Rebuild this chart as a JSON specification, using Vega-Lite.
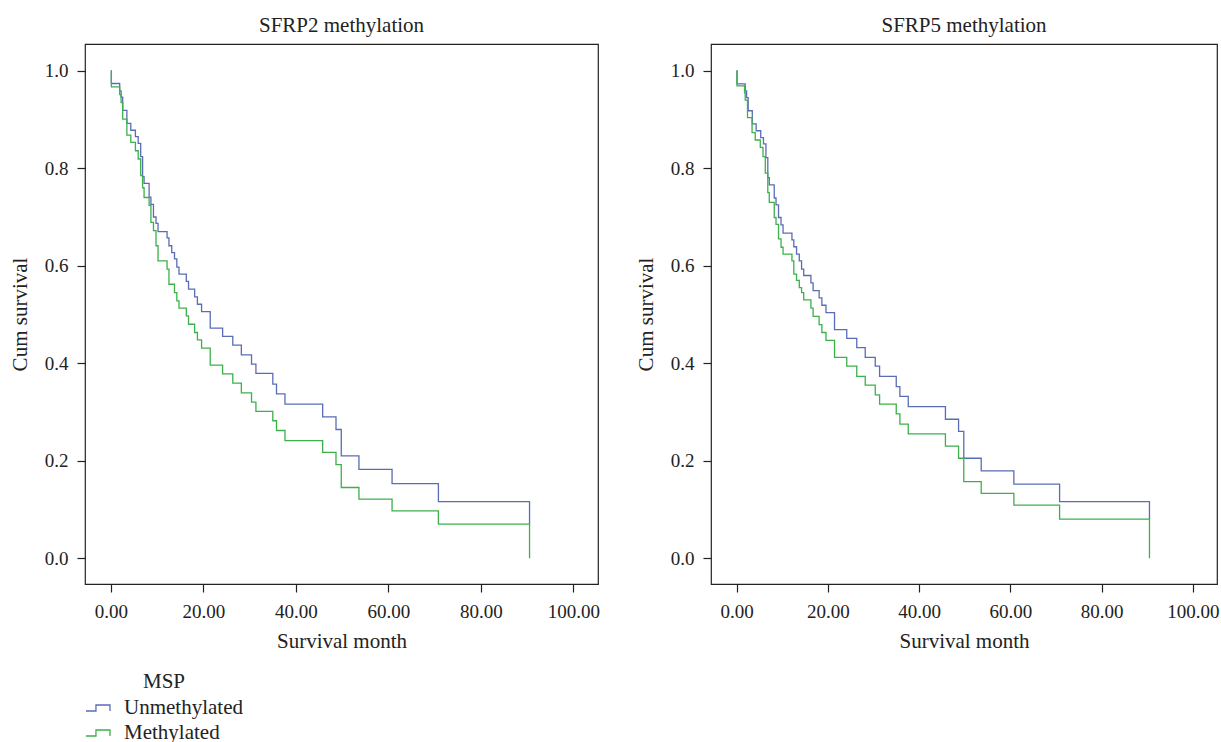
{
  "$schema": "https://vega.github.io/schema/vega-lite/v6.json",
  "padding": {"left": 8, "top": 14, "right": 0, "bottom": 0},
  "background": "white",
  "data": {"values": [
    {"g":"SFRP2","m":"Unmethylated","t":0,"s":1},{"g":"SFRP2","m":"Unmethylated","t":0.1,"s":0.974},{"g":"SFRP2","m":"Unmethylated","t":1.9,"s":0.959},{"g":"SFRP2","m":"Unmethylated","t":2.2,"s":0.946},{"g":"SFRP2","m":"Unmethylated","t":2.55,"s":0.919},{"g":"SFRP2","m":"Unmethylated","t":3.45,"s":0.892},{"g":"SFRP2","m":"Unmethylated","t":4.3,"s":0.878},{"g":"SFRP2","m":"Unmethylated","t":5.3,"s":0.865},{"g":"SFRP2","m":"Unmethylated","t":5.9,"s":0.851},{"g":"SFRP2","m":"Unmethylated","t":6.44,"s":0.824},{"g":"SFRP2","m":"Unmethylated","t":6.85,"s":0.783},{"g":"SFRP2","m":"Unmethylated","t":7.17,"s":0.769},{"g":"SFRP2","m":"Unmethylated","t":8.26,"s":0.741},{"g":"SFRP2","m":"Unmethylated","t":8.65,"s":0.726},{"g":"SFRP2","m":"Unmethylated","t":9.2,"s":0.7},{"g":"SFRP2","m":"Unmethylated","t":9.75,"s":0.687},{"g":"SFRP2","m":"Unmethylated","t":10.19,"s":0.67},{"g":"SFRP2","m":"Unmethylated","t":12.14,"s":0.657},{"g":"SFRP2","m":"Unmethylated","t":12.55,"s":0.641},{"g":"SFRP2","m":"Unmethylated","t":13.15,"s":0.627},{"g":"SFRP2","m":"Unmethylated","t":13.75,"s":0.614},{"g":"SFRP2","m":"Unmethylated","t":14.25,"s":0.597},{"g":"SFRP2","m":"Unmethylated","t":14.72,"s":0.583},{"g":"SFRP2","m":"Unmethylated","t":16.3,"s":0.568},{"g":"SFRP2","m":"Unmethylated","t":16.78,"s":0.552},{"g":"SFRP2","m":"Unmethylated","t":18.1,"s":0.536},{"g":"SFRP2","m":"Unmethylated","t":18.7,"s":0.521},{"g":"SFRP2","m":"Unmethylated","t":19.6,"s":0.506},{"g":"SFRP2","m":"Unmethylated","t":21.47,"s":0.472},{"g":"SFRP2","m":"Unmethylated","t":24.15,"s":0.455},{"g":"SFRP2","m":"Unmethylated","t":26.35,"s":0.437},{"g":"SFRP2","m":"Unmethylated","t":28.2,"s":0.417},{"g":"SFRP2","m":"Unmethylated","t":30.4,"s":0.398},{"g":"SFRP2","m":"Unmethylated","t":31.35,"s":0.379},{"g":"SFRP2","m":"Unmethylated","t":35.0,"s":0.357},{"g":"SFRP2","m":"Unmethylated","t":35.8,"s":0.337},{"g":"SFRP2","m":"Unmethylated","t":37.63,"s":0.316},{"g":"SFRP2","m":"Unmethylated","t":45.78,"s":0.29},{"g":"SFRP2","m":"Unmethylated","t":48.66,"s":0.264},{"g":"SFRP2","m":"Unmethylated","t":49.8,"s":0.21},{"g":"SFRP2","m":"Unmethylated","t":53.62,"s":0.182},{"g":"SFRP2","m":"Unmethylated","t":60.78,"s":0.153},{"g":"SFRP2","m":"Unmethylated","t":70.8,"s":0.116},{"g":"SFRP2","m":"Unmethylated","t":90.5,"s":0.07},
    {"g":"SFRP2","m":"Methylated","t":0,"s":1},{"g":"SFRP2","m":"Methylated","t":0.1,"s":0.967},{"g":"SFRP2","m":"Methylated","t":1.9,"s":0.951},{"g":"SFRP2","m":"Methylated","t":2.2,"s":0.935},{"g":"SFRP2","m":"Methylated","t":2.55,"s":0.901},{"g":"SFRP2","m":"Methylated","t":3.45,"s":0.868},{"g":"SFRP2","m":"Methylated","t":4.3,"s":0.853},{"g":"SFRP2","m":"Methylated","t":5.3,"s":0.836},{"g":"SFRP2","m":"Methylated","t":5.9,"s":0.819},{"g":"SFRP2","m":"Methylated","t":6.44,"s":0.785},{"g":"SFRP2","m":"Methylated","t":6.85,"s":0.76},{"g":"SFRP2","m":"Methylated","t":7.17,"s":0.74},{"g":"SFRP2","m":"Methylated","t":8.26,"s":0.724},{"g":"SFRP2","m":"Methylated","t":8.65,"s":0.689},{"g":"SFRP2","m":"Methylated","t":9.2,"s":0.672},{"g":"SFRP2","m":"Methylated","t":9.75,"s":0.641},{"g":"SFRP2","m":"Methylated","t":10.19,"s":0.61},{"g":"SFRP2","m":"Methylated","t":12.14,"s":0.593},{"g":"SFRP2","m":"Methylated","t":12.55,"s":0.562},{"g":"SFRP2","m":"Methylated","t":13.75,"s":0.545},{"g":"SFRP2","m":"Methylated","t":14.25,"s":0.528},{"g":"SFRP2","m":"Methylated","t":14.72,"s":0.513},{"g":"SFRP2","m":"Methylated","t":16.3,"s":0.497},{"g":"SFRP2","m":"Methylated","t":16.78,"s":0.48},{"g":"SFRP2","m":"Methylated","t":18.1,"s":0.463},{"g":"SFRP2","m":"Methylated","t":18.7,"s":0.448},{"g":"SFRP2","m":"Methylated","t":19.6,"s":0.431},{"g":"SFRP2","m":"Methylated","t":21.47,"s":0.396},{"g":"SFRP2","m":"Methylated","t":24.15,"s":0.378},{"g":"SFRP2","m":"Methylated","t":26.35,"s":0.359},{"g":"SFRP2","m":"Methylated","t":28.2,"s":0.339},{"g":"SFRP2","m":"Methylated","t":30.4,"s":0.32},{"g":"SFRP2","m":"Methylated","t":31.35,"s":0.301},{"g":"SFRP2","m":"Methylated","t":35.0,"s":0.282},{"g":"SFRP2","m":"Methylated","t":35.8,"s":0.262},{"g":"SFRP2","m":"Methylated","t":37.63,"s":0.241},{"g":"SFRP2","m":"Methylated","t":45.78,"s":0.217},{"g":"SFRP2","m":"Methylated","t":48.66,"s":0.192},{"g":"SFRP2","m":"Methylated","t":49.8,"s":0.145},{"g":"SFRP2","m":"Methylated","t":53.62,"s":0.121},{"g":"SFRP2","m":"Methylated","t":60.78,"s":0.097},{"g":"SFRP2","m":"Methylated","t":70.8,"s":0.07},{"g":"SFRP2","m":"Methylated","t":90.5,"s":0.0},
    {"g":"SFRP5","m":"Unmethylated","t":0,"s":1},{"g":"SFRP5","m":"Unmethylated","t":0.1,"s":0.973},{"g":"SFRP5","m":"Unmethylated","t":1.9,"s":0.959},{"g":"SFRP5","m":"Unmethylated","t":2.2,"s":0.945},{"g":"SFRP5","m":"Unmethylated","t":2.55,"s":0.918},{"g":"SFRP5","m":"Unmethylated","t":3.45,"s":0.891},{"g":"SFRP5","m":"Unmethylated","t":4.3,"s":0.877},{"g":"SFRP5","m":"Unmethylated","t":5.3,"s":0.863},{"g":"SFRP5","m":"Unmethylated","t":5.9,"s":0.85},{"g":"SFRP5","m":"Unmethylated","t":6.44,"s":0.822},{"g":"SFRP5","m":"Unmethylated","t":6.85,"s":0.781},{"g":"SFRP5","m":"Unmethylated","t":7.17,"s":0.766},{"g":"SFRP5","m":"Unmethylated","t":8.26,"s":0.739},{"g":"SFRP5","m":"Unmethylated","t":8.65,"s":0.725},{"g":"SFRP5","m":"Unmethylated","t":9.2,"s":0.699},{"g":"SFRP5","m":"Unmethylated","t":9.75,"s":0.684},{"g":"SFRP5","m":"Unmethylated","t":10.19,"s":0.667},{"g":"SFRP5","m":"Unmethylated","t":12.14,"s":0.653},{"g":"SFRP5","m":"Unmethylated","t":12.55,"s":0.639},{"g":"SFRP5","m":"Unmethylated","t":13.15,"s":0.624},{"g":"SFRP5","m":"Unmethylated","t":13.75,"s":0.61},{"g":"SFRP5","m":"Unmethylated","t":14.25,"s":0.593},{"g":"SFRP5","m":"Unmethylated","t":14.72,"s":0.58},{"g":"SFRP5","m":"Unmethylated","t":16.3,"s":0.565},{"g":"SFRP5","m":"Unmethylated","t":16.78,"s":0.549},{"g":"SFRP5","m":"Unmethylated","t":18.1,"s":0.534},{"g":"SFRP5","m":"Unmethylated","t":18.7,"s":0.519},{"g":"SFRP5","m":"Unmethylated","t":19.6,"s":0.504},{"g":"SFRP5","m":"Unmethylated","t":21.47,"s":0.469},{"g":"SFRP5","m":"Unmethylated","t":24.15,"s":0.451},{"g":"SFRP5","m":"Unmethylated","t":26.35,"s":0.432},{"g":"SFRP5","m":"Unmethylated","t":28.2,"s":0.412},{"g":"SFRP5","m":"Unmethylated","t":30.4,"s":0.394},{"g":"SFRP5","m":"Unmethylated","t":31.35,"s":0.373},{"g":"SFRP5","m":"Unmethylated","t":35.0,"s":0.352},{"g":"SFRP5","m":"Unmethylated","t":35.8,"s":0.332},{"g":"SFRP5","m":"Unmethylated","t":37.63,"s":0.311},{"g":"SFRP5","m":"Unmethylated","t":45.78,"s":0.285},{"g":"SFRP5","m":"Unmethylated","t":48.66,"s":0.26},{"g":"SFRP5","m":"Unmethylated","t":49.8,"s":0.205},{"g":"SFRP5","m":"Unmethylated","t":53.62,"s":0.179},{"g":"SFRP5","m":"Unmethylated","t":60.78,"s":0.152},{"g":"SFRP5","m":"Unmethylated","t":70.8,"s":0.116},{"g":"SFRP5","m":"Unmethylated","t":90.5,"s":0.08},
    {"g":"SFRP5","m":"Methylated","t":0,"s":1},{"g":"SFRP5","m":"Methylated","t":0.1,"s":0.969},{"g":"SFRP5","m":"Methylated","t":1.75,"s":0.955},{"g":"SFRP5","m":"Methylated","t":1.9,"s":0.94},{"g":"SFRP5","m":"Methylated","t":2.4,"s":0.904},{"g":"SFRP5","m":"Methylated","t":3.4,"s":0.873},{"g":"SFRP5","m":"Methylated","t":4.1,"s":0.858},{"g":"SFRP5","m":"Methylated","t":5.2,"s":0.843},{"g":"SFRP5","m":"Methylated","t":5.8,"s":0.824},{"g":"SFRP5","m":"Methylated","t":6.3,"s":0.79},{"g":"SFRP5","m":"Methylated","t":6.85,"s":0.75},{"g":"SFRP5","m":"Methylated","t":7.17,"s":0.73},{"g":"SFRP5","m":"Methylated","t":8.26,"s":0.699},{"g":"SFRP5","m":"Methylated","t":8.65,"s":0.685},{"g":"SFRP5","m":"Methylated","t":9.2,"s":0.655},{"g":"SFRP5","m":"Methylated","t":9.75,"s":0.638},{"g":"SFRP5","m":"Methylated","t":10.19,"s":0.624},{"g":"SFRP5","m":"Methylated","t":12.14,"s":0.61},{"g":"SFRP5","m":"Methylated","t":12.55,"s":0.583},{"g":"SFRP5","m":"Methylated","t":13.15,"s":0.57},{"g":"SFRP5","m":"Methylated","t":13.75,"s":0.555},{"g":"SFRP5","m":"Methylated","t":14.25,"s":0.545},{"g":"SFRP5","m":"Methylated","t":14.72,"s":0.53},{"g":"SFRP5","m":"Methylated","t":16.3,"s":0.513},{"g":"SFRP5","m":"Methylated","t":16.78,"s":0.496},{"g":"SFRP5","m":"Methylated","t":18.1,"s":0.479},{"g":"SFRP5","m":"Methylated","t":18.7,"s":0.463},{"g":"SFRP5","m":"Methylated","t":19.6,"s":0.447},{"g":"SFRP5","m":"Methylated","t":21.47,"s":0.412},{"g":"SFRP5","m":"Methylated","t":24.15,"s":0.394},{"g":"SFRP5","m":"Methylated","t":26.35,"s":0.373},{"g":"SFRP5","m":"Methylated","t":28.2,"s":0.355},{"g":"SFRP5","m":"Methylated","t":30.4,"s":0.335},{"g":"SFRP5","m":"Methylated","t":31.35,"s":0.316},{"g":"SFRP5","m":"Methylated","t":35.0,"s":0.296},{"g":"SFRP5","m":"Methylated","t":35.8,"s":0.275},{"g":"SFRP5","m":"Methylated","t":37.63,"s":0.255},{"g":"SFRP5","m":"Methylated","t":45.78,"s":0.23},{"g":"SFRP5","m":"Methylated","t":48.66,"s":0.205},{"g":"SFRP5","m":"Methylated","t":49.8,"s":0.157},{"g":"SFRP5","m":"Methylated","t":53.62,"s":0.133},{"g":"SFRP5","m":"Methylated","t":60.78,"s":0.109},{"g":"SFRP5","m":"Methylated","t":70.8,"s":0.08},{"g":"SFRP5","m":"Methylated","t":90.5,"s":0.0}
  ]},
  "spacing": 113,
  "bounds": "flush",
  "hconcat": [
    {
      "title": "SFRP2 methylation",
      "width": 513,
      "height": 540,
      "transform": [{"filter": "datum.g === 'SFRP2'"}],
      "mark": {"type": "line", "interpolate": "step-after", "strokeWidth": 1.3},
      "encoding": {
        "x": {"field": "t", "type": "quantitative", "title": "Survival month",
              "scale": {"domain": [-5.6, 105.3], "nice": false, "zero": false},
              "axis": {"values": [0, 20, 40, 60, 80, 100], "format": ".2f"}},
        "y": {"field": "s", "type": "quantitative", "title": "Cum survival",
              "scale": {"domain": [-0.053, 1.055], "nice": false, "zero": false},
              "axis": {"values": [0, 0.2, 0.4, 0.6, 0.8, 1.0], "format": ".1f"}},
        "color": {"field": "m", "type": "nominal",
                  "scale": {"domain": ["Unmethylated", "Methylated"], "range": ["#5b6cb6", "#3cb04a"]},
                  "legend": {"title": "MSP", "orient": "none", "legendX": 0, "legendY": 627}}
      }
    },
    {
      "title": "SFRP5 methylation",
      "width": 506,
      "height": 540,
      "transform": [{"filter": "datum.g === 'SFRP5'"}],
      "mark": {"type": "line", "interpolate": "step-after", "strokeWidth": 1.3},
      "encoding": {
        "x": {"field": "t", "type": "quantitative", "title": "Survival month",
              "scale": {"domain": [-5.6, 105.3], "nice": false, "zero": false},
              "axis": {"values": [0, 20, 40, 60, 80, 100], "format": ".2f"}},
        "y": {"field": "s", "type": "quantitative", "title": "Cum survival",
              "scale": {"domain": [-0.053, 1.055], "nice": false, "zero": false},
              "axis": {"values": [0, 0.2, 0.4, 0.6, 0.8, 1.0], "format": ".1f"}},
        "color": {"field": "m", "type": "nominal",
                  "scale": {"domain": ["Unmethylated", "Methylated"], "range": ["#5b6cb6", "#3cb04a"]},
                  "legend": {"title": "MSP", "orient": "none", "legendX": 0, "legendY": 627}}
      }
    }
  ],
  "config": {
    "font": "Liberation Serif",
    "view": {"stroke": "#222222", "strokeWidth": 1.2},
    "axis": {"domain": false, "grid": false, "tickColor": "#222222", "tickSize": 8, "tickWidth": 1.2,
             "labelFont": "Liberation Serif", "labelFontSize": 19, "labelColor": "#222222",
             "titleFont": "Liberation Serif", "titleFontSize": 21, "titleFontWeight": "normal", "titleColor": "#222222"},
    "axisX": {"labelPadding": 10, "titlePadding": 9},
    "axisY": {"labelPadding": 9, "titlePadding": 14},
    "title": {"font": "Liberation Serif", "fontSize": 21, "fontWeight": "normal", "color": "#222222", "offset": 8},
    "legend": {"titleFont": "Liberation Serif", "titleFontSize": 21, "titleFontWeight": "normal", "titleColor": "#222222",
               "labelFont": "Liberation Serif", "labelFontSize": 21, "labelColor": "#222222",
               "symbolType": "M-1,0.25H-0.17V-0.25H1V0.25", "symbolSize": 576, "symbolStrokeWidth": 1.3,
               "symbolFillColor": "transparent", "labelOffset": 13, "rowPadding": 2, "titlePadding": 3,
               "titleAnchor": "middle", "padding": 0}
  }
}
